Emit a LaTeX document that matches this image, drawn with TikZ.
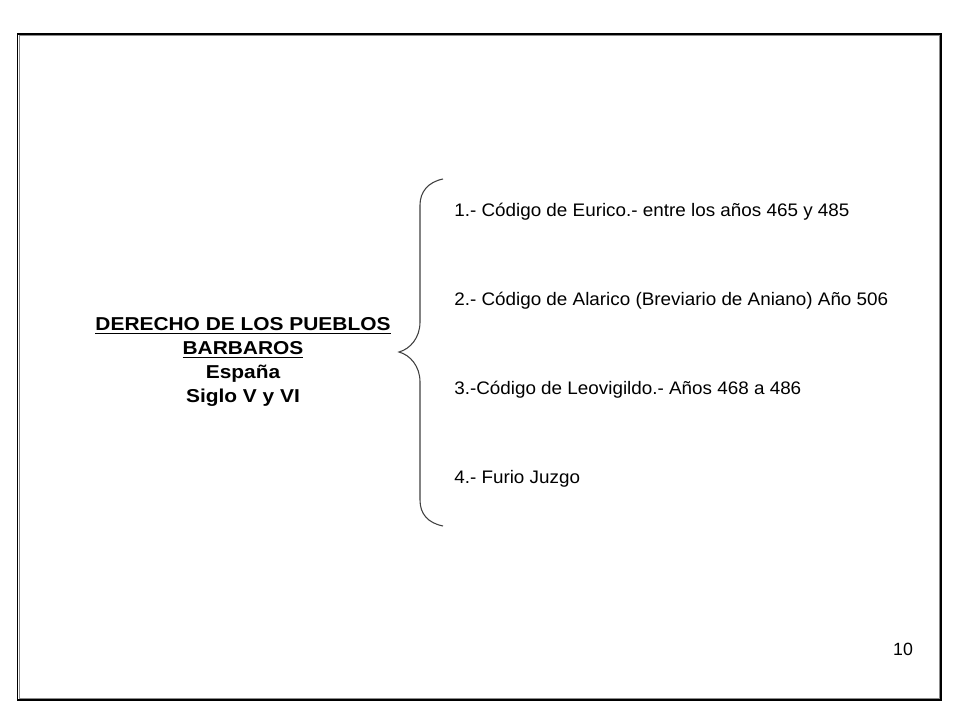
\documentclass[tikz,border=0pt]{standalone}
\usepackage{fontspec}
\setmainfont{Liberation Sans}
\usetikzlibrary{positioning}
\newcommand{\anchoitem}[1]{\scalebox{1.04}[1]{#1}}
\newcommand{\anchotit}[1]{\scalebox{1.12}[1]{#1}}
\newcommand{\subrayado}[1]{\setbox0\hbox{#1}\rlap{\rule[-2.9pt]{\wd0}{1.1pt}}\box0}

\begin{document}
\begin{tikzpicture}[x=0.75pt, y=-0.75pt]
        % Define styles
        \tikzstyle{titulo} = [align=center, font=\fontsize{14}{18}\selectfont\bfseries]
        \tikzstyle{codigo} = [anchor=west, inner sep=0pt, font=\fontsize{13.6}{15}\selectfont]
        \tikzstyle{llave} = [draw=black!75, line width=0.8pt]

        \useasboundingbox (0,0) rectangle (960,720);

        % Frame
        \draw [black, line width=1.1pt] (17.5,34) rectangle (941,700);
        \draw [black!45, line width=1pt] (19.2,35.6) rectangle (939.3,698.3);

        % Title
        \node [titulo] (titulo) at (243,362) {\anchotit{\subrayado{DERECHO DE LOS PUEBLOS}}\\\anchotit{\subrayado{BARBAROS}}\\\anchotit{Espa\~na}\\\anchotit{Siglo V y VI}};

        % Codes
        \node [codigo] (cod1) at (454,212) {\anchoitem{1.- Código de Eurico.- entre los años 465 y 485}};
        \node [codigo, below=66.75pt of cod1.west, anchor=west] (cod2) {\anchoitem{2.- Código de Alarico (Breviario de Aniano) Año 506}};
        \node [codigo, below=66.75pt of cod2.west, anchor=west] (cod3) {\anchoitem{3.-Código de Leovigildo.- Años 468 a 486}};
        \node [codigo, below=66.75pt of cod3.west, anchor=west] (cod4) {\anchoitem{4.- Furio Juzgo}};

        % Brace
        \coordinate (punta) at (399,352);
        \draw [llave] (443,179) .. controls (428,182) and (420,192) .. (420,205)
              -- (420,322) .. controls (420,338) and (410,349) .. (punta)
              .. controls (410,355) and (420,366) .. (420,382)
              -- (420,500) .. controls (420,514) and (428,523) .. (443,526);

        % Page number
        \node [font=\fontsize{13.3}{15}\selectfont] (pagina) at (903,649) {10};
\end{tikzpicture}
\end{document}
